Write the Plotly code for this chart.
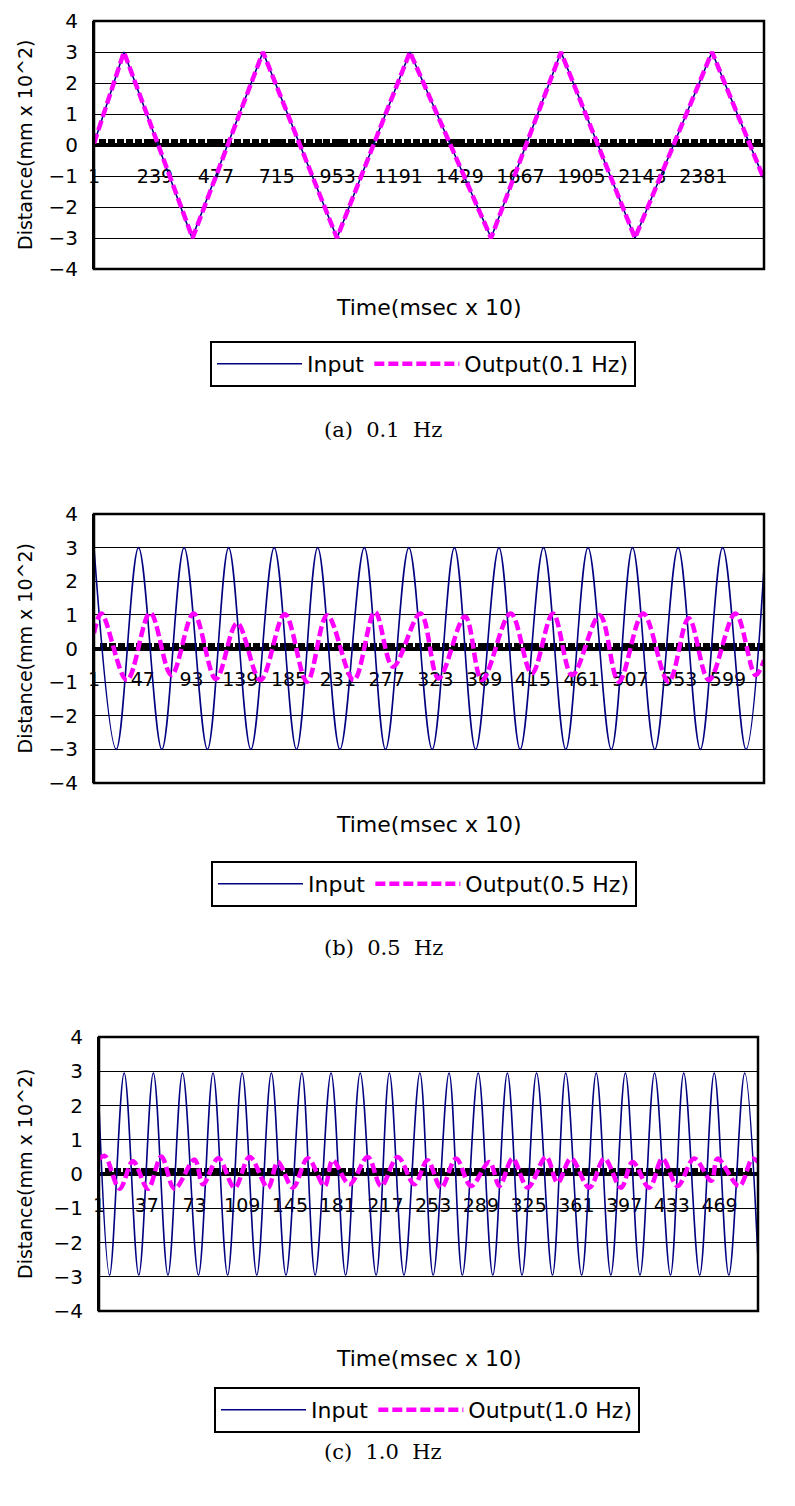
import plotly.graph_objects as go

# ---------------- data ----------------
# (a) 0.1 Hz
a_ticks = [1, 239, 477, 715, 953, 1191, 1429, 1667, 1905, 2143, 2381]
a_last = 2618
a_input_x = [1, 118, 384, 661, 950, 1235, 1552, 1825, 2114, 2415, 2618]
a_input_y = [0.05, 3.0, -3.0, 3.0, -3.0, 3.0, -3.0, 3.0, -3.0, 3.0, -1.1]
a_output_x = [1, 118, 386, 661, 950, 1235, 1552, 1825, 2114, 2415, 2618]
a_output_y = [0.05, 3.0, -3.0, 3.0, -3.0, 3.0, -3.0, 3.0, -3.0, 3.0, -1.1]

# (b) 0.5 Hz
b_ticks = [1, 47, 93, 139, 185, 231, 277, 323, 369, 415, 461, 507, 553, 599]
b_last = 633
b_input_x = [1, 22, 43, 65, 86, 108, 128, 149, 171, 192, 212, 233, 256, 276, 298, 320,
             341, 361, 383, 403, 425, 446, 467, 489, 509, 530, 552, 573, 594, 616, 633]
b_input_y = [3, -3, 3, -3, 3, -3, 3, -3, 3, -3, 3, -3, 3, -3, 3, -3,
             3, -3, 3, -3, 3, -3, 3, -3, 3, -3, 3, -3, 3, -3, 2.4]
b_output_x = [1, 8, 32, 54, 74, 95, 116, 136, 158, 181, 202, 221, 246, 266, 283, 309,
              326, 351, 367, 394, 414, 434, 452, 478, 496, 519, 543, 562, 581, 606, 625, 633]
b_output_y = [0.45, 1.04, -0.94, 1.06, -0.79, 1.04, -0.91, 0.75, -0.94, 1.02, -0.99, 0.99,
              -0.94, 1.09, -0.54, 1.04, -0.89, 0.95, -0.94, 1.04, -0.74, 1.04, -0.79, 0.99,
              -0.99, 1.04, -0.99, 0.9, -0.94, 1.04, -0.79, -0.35]

# (c) 1.0 Hz
c_ticks = [1, 37, 73, 109, 145, 181, 217, 253, 289, 325, 361, 397, 433, 469]
c_last = 498
c_input_x = [1, 9, 20, 31, 42, 53, 64, 76, 87, 98, 109, 120, 131, 142, 154, 164, 176,
             187, 198, 210, 220, 231, 243, 253, 265, 275, 287, 298, 309, 320, 331, 343,
             353, 365, 376, 387, 398, 409, 420, 432, 442, 454, 465, 476, 488, 498]
c_input_y = [2.0, -2.95, 2.95, -2.95, 2.95, -2.95, 2.95, -2.95, 2.95, -2.95, 2.95, -2.95,
             2.95, -2.95, 2.95, -2.95, 2.95, -2.95, 2.95, -2.95, 2.95, -2.95, 2.95, -2.95,
             2.95, -2.95, 2.95, -2.95, 2.95, -2.95, 2.95, -2.95, 2.95, -2.95, 2.95, -2.95,
             2.95, -2.95, 2.95, -2.95, 2.95, -2.95, 2.95, -2.95, 2.95, -2.5]
c_output_x = [1, 5.3, 16.6, 26.6, 37.9, 48.0, 58.0, 73.1, 79.4, 91.0, 103.3, 114.6, 128.4,
              135.9, 147.2, 158.5, 171.1, 177.3, 189.9, 203.7, 213.8, 226.3, 238.9, 248.7,
              259.0, 270.3, 281.6, 295.4, 303.0, 313.0, 324.3, 338.2, 346.9, 357.0, 370.8,
              382.1, 394.7, 403.4, 416.0, 426.0, 437.3, 449.9, 462.8, 467.5, 483.8, 493.8, 498]
c_output_y = [0.42, 0.53, -0.43, 0.37, -0.43, 0.51, -0.43, 0.42, -0.3, 0.46, -0.4, 0.5, -0.4,
              0.35, -0.4, 0.46, -0.35, 0.4, -0.3, 0.5, -0.35, 0.5, -0.3, 0.4,
              -0.4, 0.45, -0.35, 0.35, -0.35, 0.45, -0.4, 0.5, -0.25, 0.45, -0.4,
              0.45, -0.4, 0.35, -0.4, 0.45, -0.35, 0.45, -0.2, 0.45, -0.35, 0.45, 0.35]

y_ticks = [-4, -3, -2, -1, 0, 1, 2, 3, 4]
series_names = ["Input", "Output(0.1 Hz)", "Output(0.5 Hz)", "Output(1.0 Hz)"]
captions = ["(a)  0.1  Hz", "(b)  0.5  Hz", "(c)  1.0  Hz"]
x_title = "Time(msec x 10)"
y_title = "Distance(mm x 10^2)"

# ---------------- layout geometry (pixels) ----------------
W, H = 795, 1506
OFF = 8  # page body margin
SANS = "DejaVu Sans"
SERIF = "DejaVu Serif"
NAVY = "#000080"
MAGENTA = "#FF00FF"


def px_x(p):
    return (p - OFF) / W


def px_y(p):
    return 1 - (p - OFF) / H


panels = [
    dict(key="", ticks=a_ticks, last=a_last, ix=a_input_x, iy=a_input_y, ox=a_output_x, oy=a_output_y,
         oname=series_names[1], shape="linear", left=94, right=764, top=21, bottom=269,
         minor_dtick=35, title_y=307, legend_top=341, legend_cx=423, cap=captions[0], cap_y=430),
    dict(key="2", ticks=b_ticks, last=b_last, ix=b_input_x, iy=b_input_y, ox=b_output_x, oy=b_output_y,
         oname=series_names[2], shape="spline", left=94, right=764, top=514, bottom=783,
         minor_dtick=8.5, title_y=824, legend_top=861, legend_cx=424, cap=captions[1], cap_y=948),
    dict(key="3", ticks=c_ticks, last=c_last, ix=c_input_x, iy=c_input_y, ox=c_output_x, oy=c_output_y,
         oname=series_names[3], shape="spline", left=99, right=758, top=1037, bottom=1311,
         minor_dtick=6.8, title_y=1358, legend_top=1387, legend_cx=427, cap=captions[2], cap_y=1452),
]

fig = go.Figure()
layout = dict(width=W, height=H, margin=dict(l=0, r=0, t=0, b=0, pad=0, autoexpand=False),
              autosize=False, template="none",
              paper_bgcolor="white", plot_bgcolor="white", showlegend=True)
annotations = []
shapes = []

for p in panels:
    k = p["key"]
    xname = "x" + k
    yname = "y" + k
    legname = "legend" + k
    fig.add_trace(go.Scatter(x=p["ix"], y=p["iy"], mode="lines", name=series_names[0],
                             line=dict(color=NAVY, width=1.6, shape=p["shape"]),
                             xaxis=xname, yaxis=yname, legend=legname))
    fig.add_trace(go.Scatter(x=p["ox"], y=p["oy"], mode="lines", name=p["oname"],
                             line=dict(color=MAGENTA, width=4.5, dash="10px,4px", shape=p["shape"]),
                             xaxis=xname, yaxis=yname, legend=legname))
    ydom = [px_y(p["bottom"]), px_y(p["top"])]
    xdom = [px_x(p["left"]), px_x(p["right"])]
    zero_pos = (ydom[0] + ydom[1]) / 2
    layout["xaxis" + k] = dict(
        domain=xdom, anchor="free", position=zero_pos, range=[1, p["last"]],
        tickmode="array", tickvals=p["ticks"], ticktext=[str(t) for t in p["ticks"]],
        showgrid=False, zeroline=False, showline=True, linecolor="black", linewidth=4,
        ticks="inside", ticklen=4, tickwidth=7, tickcolor="black", automargin=False,
        minor=dict(tickmode="linear", tick0=1, dtick=p["minor_dtick"], ticks="inside",
                   ticklen=4, tickwidth=7, tickcolor="black", showgrid=False),
        tickfont=dict(family=SANS, size=19, color="black"), ticklabelstandoff=13,
        layer="below traces", fixedrange=True,
    )
    layout["yaxis" + k] = dict(
        domain=ydom, anchor=xname, range=[-4, 4], tickmode="array", tickvals=y_ticks,
        showgrid=True, gridcolor="black", gridwidth=1, zeroline=False, automargin=False,
        showline=True, linecolor="black", linewidth=2, ticks="",
        tickfont=dict(family=SANS, size=20, color="black"), ticklabelstandoff=10,
        fixedrange=True,
    )
    shapes.append(dict(type="rect", xref=xname + " domain", yref=yname + " domain",
                       x0=0, x1=1, y0=0, y1=1, line=dict(color="black", width=2.5)))
    layout[legname] = dict(
        orientation="h", x=px_x(p["legend_cx"]), xanchor="center", y=px_y(p["legend_top"]),
        yanchor="top", bordercolor="black", borderwidth=2, bgcolor="white",
        font=dict(family=SANS, size=22, color="black"), itemwidth=85,
        itemclick=False, itemdoubleclick=False,
    )
    annotations.append(dict(text=x_title, x=px_x((p["left"] + p["right"]) / 2), y=px_y(p["title_y"]),
                            xref="paper", yref="paper", showarrow=False, xanchor="center", yanchor="middle",
                            font=dict(family=SANS, size=22, color="black")))
    annotations.append(dict(text=y_title, x=px_x(25), y=(ydom[0] + ydom[1]) / 2,
                            xref="paper", yref="paper", showarrow=False, textangle=-90,
                            xanchor="center", yanchor="middle",
                            font=dict(family=SANS, size=19, color="black")))
    annotations.append(dict(text=p["cap"], x=px_x(383), y=px_y(p["cap_y"]),
                            xref="paper", yref="paper", showarrow=False, xanchor="center", yanchor="middle",
                            font=dict(family=SERIF, size=21, color="black")))

layout["annotations"] = annotations
layout["shapes"] = shapes
fig.update_layout(**layout)
fig.write_html("out.html")
